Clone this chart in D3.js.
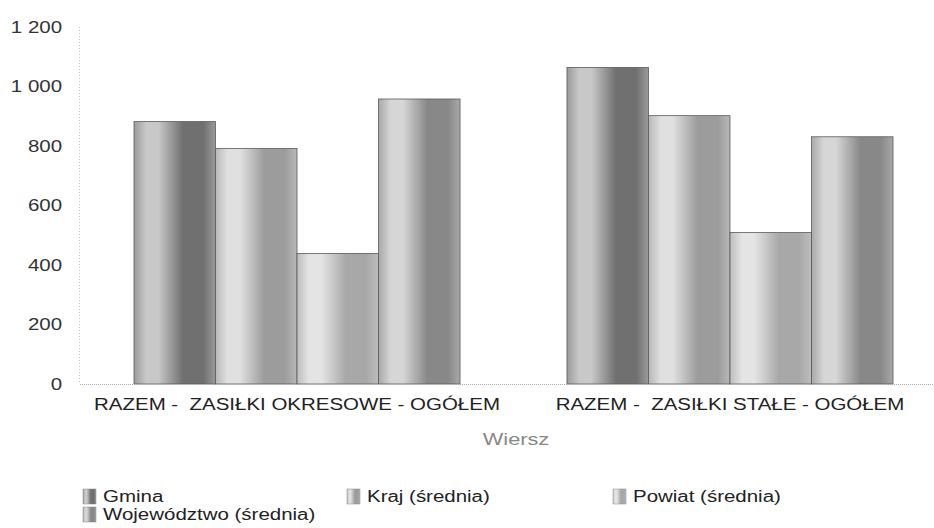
<!DOCTYPE html>
<html>
<head>
<meta charset="utf-8">
<script src="https://cdn.jsdelivr.net/npm/d3@7"></script>
<style>
  body { margin: 0; background: #fff; }
  svg { display: block; font-family: "Liberation Sans", Arial, sans-serif; }
</style>
</head>
<body>
<svg id="chart" width="934" height="528"></svg>
<script>
// ---- data ----
const categories = ["RAZEM -  ZASIŁKI OKRESOWE - OGÓŁEM", "RAZEM -  ZASIŁKI STAŁE - OGÓŁEM"];
const seriesNames = ["Gmina", "Kraj (średnia)", "Powiat (średnia)", "Województwo (średnia)"];
const gmina = [882, 1064];
const kraj = [792, 902];
const powiat = [439, 509];
const wojewodztwo = [958, 831];
const yTicks = [0, 200, 400, 600, 800, 1000, 1200];
const xTitle = "Wiersz";

const seriesValues = [gmina, kraj, powiat, wojewodztwo];
// shading per series: [edge, light, dark]
const shades = [
  ["#9a9a9a", "#c8c8c8", "#707070"],
  ["#b8b8b8", "#e0e0e0", "#9c9c9c"],
  ["#bebebe", "#e4e4e4", "#a8a8a8"],
  ["#a8a8a8", "#d6d6d6", "#888888"]
];

const SX = 1.28; // horizontal stretch of the lettering in the reference
const svg = d3.select("#chart");
const plotBottom = 384;

const x0 = d3.scaleBand().domain(categories).range([80, 947]).paddingInner(0.247).paddingOuter(0.1247);
const x1 = d3.scaleBand().domain(seriesNames).range([0, x0.bandwidth()]).padding(0);
const y = d3.scaleLinear().domain([0, 1200]).range([plotBottom, 27]);

// gradients
const defs = svg.append("defs");
shades.forEach((s, i) => {
  const g = defs.append("linearGradient").attr("id", "grad" + i)
    .attr("x1", "0%").attr("x2", "100%").attr("y1", "0%").attr("y2", "0%");
  [[0, s[0]], [0.15, s[1]], [0.3, s[1]], [0.6, s[2]], [0.85, s[2]], [1, s[0]]].forEach(([o, c]) => {
    g.append("stop").attr("offset", (o * 100) + "%").attr("stop-color", c);
  });
});

// y axis dotted line
svg.append("line").attr("x1", 79.5).attr("x2", 79.5).attr("y1", y(1200)).attr("y2", plotBottom)
  .attr("stroke", "#c4c4c4").attr("stroke-dasharray", "1,2");

// y axis labels
const fmt = v => d3.format(",")(v).replace(/,/g, " ");
const yAxis = d3.axisLeft(y).tickValues(yTicks).tickFormat(fmt).tickSize(0).tickPadding(14);
const ya = svg.append("g").attr("transform", "translate(80,0)").call(yAxis);
ya.select(".domain").remove();
ya.selectAll("text").attr("font-size", 16).attr("fill", "#333")
  .attr("font-family", "'Liberation Sans', Arial, sans-serif")
  .attr("transform", `scale(${SX},1)`);

// bars
const groups = svg.append("g").selectAll("g").data(categories).join("g")
  .attr("transform", d => `translate(${x0(d)},0)`);
groups.selectAll("rect")
  .data((c, ci) => seriesNames.map((s, si) => ({s, si, v: seriesValues[si][ci]})))
  .join("rect")
  .attr("x", d => x1(d.s))
  .attr("y", d => y(d.v))
  .attr("width", x1.bandwidth())
  .attr("height", d => plotBottom - y(d.v))
  .attr("fill", d => `url(#grad${d.si})`)
  .attr("stroke", "#5a5a5a").attr("stroke-width", 0.8);

// baseline
svg.append("line").attr("x1", 80).attr("x2", 934).attr("y1", plotBottom + 0.5).attr("y2", plotBottom + 0.5)
  .attr("stroke", "#aaa").attr("stroke-dasharray", "1,1");

// x axis labels
const xAxis = d3.axisBottom(x0).tickSize(0).tickPadding(15);
const xa = svg.append("g").attr("transform", `translate(0,${plotBottom})`).call(xAxis);
xa.select(".domain").remove();
xa.selectAll("text").attr("font-size", 16).attr("fill", "#222")
  .attr("font-family", "'Liberation Sans', Arial, sans-serif")
  .attr("transform", `scale(${SX},1)`)
  .style("white-space", "pre");

// x title
svg.append("g").attr("transform", `translate(516,445) scale(${SX},1)`)
  .append("text").attr("text-anchor", "middle")
  .attr("font-size", 17).attr("fill", "#888")
  .text(xTitle);

// legend
const legendPos = [[83, 496], [347, 496], [613, 496], [83, 514]];
const lg = svg.append("g").selectAll("g").data(seriesNames).join("g")
  .attr("transform", (d, i) => `translate(${legendPos[i][0]},${legendPos[i][1]})`);
lg.append("rect").attr("x", 0).attr("y", -7).attr("width", 13).attr("height", 15)
  .attr("fill", (d, i) => `url(#grad${i})`).attr("stroke", "#888").attr("stroke-width", 0.5);
lg.append("text").attr("x", 0).attr("y", 0).attr("dy", "0.35em")
  .attr("transform", `translate(20,0) scale(${SX},1)`)
  .attr("font-size", 16).attr("fill", "#222").text(d => d);
</script>
</body>
</html>
